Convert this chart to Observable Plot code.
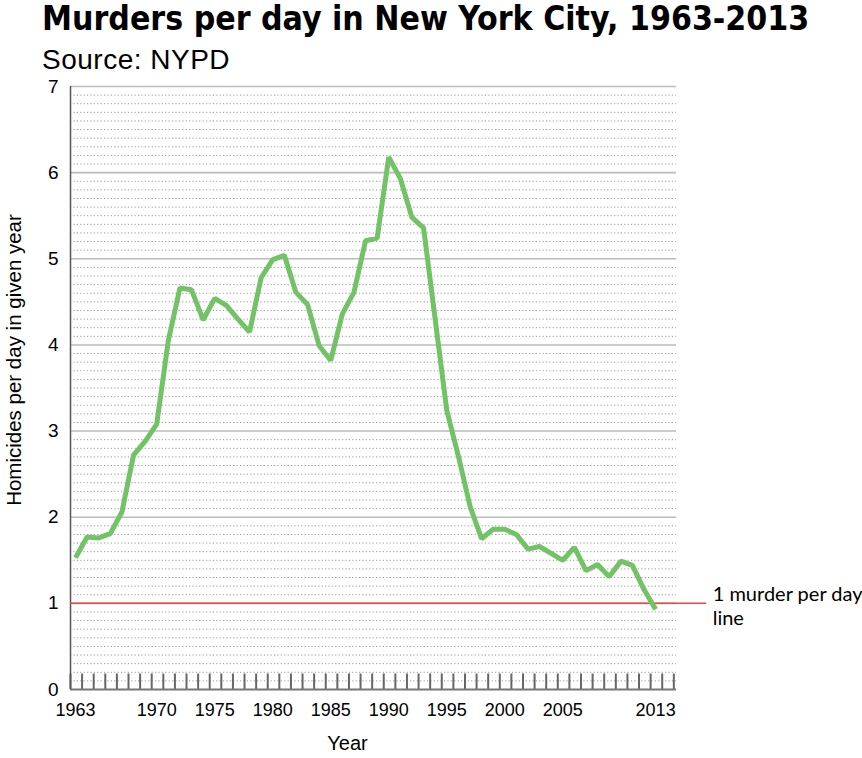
<!DOCTYPE html>
<html><head><meta charset="utf-8">
<script src="https://cdn.jsdelivr.net/npm/d3@7"></script>
<script src="https://cdn.jsdelivr.net/npm/@observablehq/plot@0.6"></script>
<style>
body{margin:0;background:#fff;width:862px;height:758px;overflow:hidden}
#head{position:relative;height:68px}
#title{position:absolute;left:42px;top:1px;font-weight:bold;font-size:33.5px;line-height:36px;font-family:"DejaVu Sans Condensed",sans-serif;color:#000;white-space:nowrap}
#sub{position:absolute;left:42px;top:44px;font-size:28px;line-height:32px;letter-spacing:0.5px;font-family:"Liberation Sans",Arial,sans-serif;color:#000;white-space:nowrap;z-index:2}
#chart{position:relative;z-index:1}
</style></head>
<body>
<div id="head"><div id="title">Murders per day in New York City, 1963-2013</div><div id="sub">Source: NYPD</div></div>
<div id="chart"></div>
<script>
const years = [1963,1964,1965,1966,1967,1968,1969,1970,1971,1972,1973,1974,1975,1976,1977,1978,1979,1980,1981,1982,1983,1984,1985,1986,1987,1988,1989,1990,1991,1992,1993,1994,1995,1996,1997,1998,1999,2000,2001,2002,2003,2004,2005,2006,2007,2008,2009,2010,2011,2012,2013];
const perDay = [1.53,1.77,1.76,1.81,2.06,2.72,2.88,3.08,4.05,4.66,4.64,4.29,4.54,4.46,4.30,4.15,4.78,4.99,5.04,4.61,4.47,3.99,3.82,4.36,4.61,5.21,5.24,6.18,5.93,5.48,5.36,4.30,3.24,2.71,2.13,1.75,1.86,1.86,1.80,1.63,1.66,1.58,1.50,1.65,1.38,1.45,1.31,1.49,1.44,1.16,0.93];
const xTickLabels = [1963,1970,1975,1980,1985,1990,1995,2000,2005,2013];
const yTickLabels = [0,1,2,3,4,5,6,7];
const majorGrid = [1,2,3,4,5,6,7];
const minorGrid = d3.range(1,70).filter(i => i % 10 !== 0).map(i => i / 10);
const yearMarks = d3.range(1963, 2016);
const refValue = 1;
const refLabel = ["1 murder per day", "line"];
const xDomain = [1962.57, 2014.8];
const refEnd = 2017.4;

const data = years.map((y, i) => ({year: y, value: perDay[i]}));

const chart = Plot.plot({
  width: 862,
  height: 690,
  marginTop: 18,
  marginBottom: 69,
  marginLeft: 70,
  marginRight: 186,
  style: {fontFamily: "'Liberation Sans', Arial, sans-serif", background: "transparent"},
  x: {domain: xDomain},
  y: {domain: [0, 7]},
  marks: [
    Plot.ruleY(minorGrid, {stroke: "#999", strokeWidth: 1, strokeDasharray: "1.2,2.2"}),
    Plot.ruleY(majorGrid, {stroke: "#bbb", strokeWidth: 1.6}),
    Plot.ruleX(yearMarks, {x: d => d, dx: -5, y1: 0, y2: 0.18, stroke: "#666", strokeWidth: 2}),
    Plot.ruleY([0], {stroke: "#777", strokeWidth: 2}),
    Plot.ruleX([xDomain[0]], {y1: 0, y2: 7, stroke: "#555", strokeWidth: 1.5}),
    Plot.ruleY([refValue], {x1: xDomain[0], x2: refEnd, stroke: "#ee4646", strokeWidth: 1.5}),
    Plot.line(data, {x: "year", y: "value", stroke: "#72c266", strokeWidth: 5, strokeLinejoin: "miter", strokeLinecap: "butt"}),
    Plot.text([refLabel.join("\n")], {x: refEnd, y: refValue, dx: 6, dy: 2, text: d => d, textAnchor: "start", lineAnchor: "middle", fontSize: 20, lineHeight: 1.2, fill: "#000", fontFamily: "Lato, sans-serif"}),
    Plot.axisX({ticks: xTickLabels, tickFormat: d => String(d), tickSize: 0, tickPadding: 14, fontSize: 18, label: null, fill: "#000"}),
    Plot.axisY({ticks: yTickLabels, tickFormat: d3.format("d"), tickSize: 0, tickPadding: 12, fontSize: 19, label: null, fill: "#000"}),
    Plot.text(["Year"], {frameAnchor: "bottom", dy: 60, dx: -26, fontSize: 20, fill: "#000"}),
    Plot.text(["Homicides per day in given year"], {frameAnchor: "left", textAnchor: "middle", dx: -56, dy: -28, rotate: -90, fontSize: 20.5, fill: "#000"})
  ]
});
document.getElementById("chart").appendChild(chart);
</script>
</body></html>
